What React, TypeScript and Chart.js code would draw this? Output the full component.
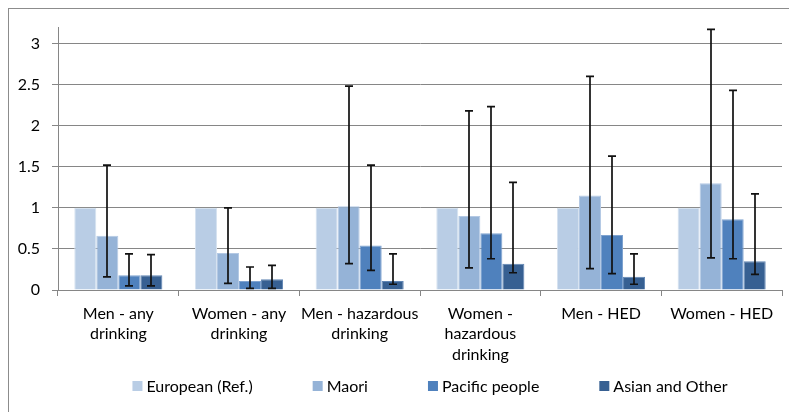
import React, { useEffect, useRef } from "react";
import { Chart, registerables } from "chart.js";

Chart.register(...registerables);

const FONT = "Lato, 'Liberation Sans', sans-serif";

const categories: string[][] = [
  ["Men - any", "drinking"],
  ["Women - any", "drinking"],
  ["Men - hazardous", "drinking"],
  ["Women -", "hazardous", "drinking"],
  ["Men - HED"],
  ["Women - HED"],
];

const seriesNames = ["European (Ref.)", "Maori", "Pacific people", "Asian and Other"];
const seriesColors = ["#B9CDE5", "#95B3D7", "#4F81BD", "#376092"];

const european = [1, 1, 1, 1, 1, 1];
const maori = [0.66, 0.45, 1.02, 0.9, 1.15, 1.3];
const maoriLow = [0.16, 0.08, 0.32, 0.27, 0.26, 0.39];
const maoriHigh = [1.52, 1.0, 2.48, 2.18, 2.6, 3.17];
const pacific = [0.18, 0.11, 0.54, 0.69, 0.67, 0.86];
const pacificLow = [0.05, 0.02, 0.24, 0.38, 0.2, 0.38];
const pacificHigh = [0.44, 0.28, 1.52, 2.23, 1.63, 2.43];
const asian = [0.18, 0.13, 0.11, 0.32, 0.16, 0.35];
const asianLow = [0.05, 0.02, 0.07, 0.21, 0.07, 0.19];
const asianHigh = [0.43, 0.3, 0.44, 1.31, 0.44, 1.17];

const yTicks = [0, 0.5, 1, 1.5, 2, 2.5, 3];

const errorBarPlugin = {
  id: "errorBars",
  afterDatasetsDraw(chart: any) {
    const ctx = chart.ctx;
    const yScale = chart.scales.y;
    ctx.save();
    ctx.strokeStyle = "#111111";
    ctx.lineWidth = 1.7;
    chart.data.datasets.forEach((ds: any, di: number) => {
      const low = ds.errLow;
      const high = ds.errHigh;
      if (!low || !high) return;
      const meta = chart.getDatasetMeta(di);
      meta.data.forEach((bar: any, i: number) => {
        const x = Math.round(bar.x);
        const yl = yScale.getPixelForValue(low[i]);
        const yh = yScale.getPixelForValue(high[i]);
        const cap = 4;
        ctx.beginPath();
        ctx.moveTo(x, yl);
        ctx.lineTo(x, yh);
        ctx.moveTo(x - cap, yl);
        ctx.lineTo(x + cap, yl);
        ctx.moveTo(x - cap, yh);
        ctx.lineTo(x + cap, yh);
        ctx.stroke();
      });
    });
    ctx.restore();
  },
};

const legendAndBorderPlugin = {
  id: "customLegend",
  afterDraw(chart: any) {
    const ctx = chart.ctx;
    ctx.save();
    // outer chart border
    ctx.strokeStyle = "#8C8C8C";
    ctx.lineWidth = 1;
    ctx.strokeRect(8.5, 8.5, chart.width + 20, chart.height + 20);
    // legend
    ctx.font = `16px ${FONT}`;
    ctx.textBaseline = "middle";
    ctx.textAlign = "left";
    const box = 10;
    const gapText = 4;
    const gapItem = 60;
    const widths = seriesNames.map((n) => box + gapText + ctx.measureText(n).width);
    const total = widths.reduce((a, b) => a + b, 0) + gapItem * (seriesNames.length - 1);
    const cx = (chart.chartArea.left + chart.chartArea.right) / 2 + 10;
    let x = cx - total / 2;
    const yc = 386;
    seriesNames.forEach((n, i) => {
      ctx.fillStyle = seriesColors[i];
      ctx.fillRect(x, yc - box / 2, box, box);
      ctx.fillStyle = "#000000";
      ctx.fillText(n, x + box + gapText, yc + 1);
      x += widths[i] + gapItem;
    });
    ctx.restore();
  },
};

export default function App() {
  const ref = useRef<HTMLCanvasElement | null>(null);

  useEffect(() => {
    document.body.style.margin = "0";
    const canvas = ref.current;
    if (!canvas) return;
    const lighten = ["#D6E2F0", "#B4C9E4", "#7FA3D0", "#6186B4"];
    const values = [european, maori, pacific, asian];
    const lows = [null, maoriLow, pacificLow, asianLow];
    const highs = [null, maoriHigh, pacificHigh, asianHigh];
    const chart = new Chart(canvas, {
      type: "bar",
      data: {
        labels: categories,
        datasets: seriesNames.map((name, i) => ({
          label: name,
          data: values[i],
          backgroundColor: seriesColors[i],
          borderColor: lighten[i],
          borderWidth: 1,
          errLow: lows[i],
          errHigh: highs[i],
          categoryPercentage: 0.73,
          barPercentage: 1.0,
        })) as any,
      },
      options: {
        animation: false,
        responsive: false,
        maintainAspectRatio: false,
        layout: { padding: { left: 0, right: 7, top: 27, bottom: 0 } },
        plugins: {
          legend: { display: false },
          tooltip: { enabled: false },
          title: { display: false },
        },
        scales: {
          x: {
            grid: {
              display: true,
              drawOnChartArea: false,
              drawTicks: true,
              tickLength: 6,
              color: "#868686",
              offset: true,
            },
            border: { display: true, color: "#868686", width: 1 },
            ticks: {
              color: "#000000",
              font: { family: FONT, size: 16, lineHeight: 1.3 },
              padding: 7,
              maxRotation: 0,
              autoSkip: false,
            },
            afterFit(scale: any) {
              scale.height = 412 - 290;
            },
          },
          y: {
            min: 0,
            max: 3.2,
            afterBuildTicks(scale: any) {
              scale.ticks = yTicks.map((v) => ({ value: v }));
            },
            grid: {
              color: "#868686",
              tickLength: 6,
              drawTicks: true,
            },
            border: { display: true, color: "#868686", width: 1 },
            ticks: {
              color: "#000000",
              font: { family: FONT, size: 16 },
              padding: 12,
              callback: (v: any) => String(v),
            },
            afterFit(scale: any) {
              scale.width = 58;
            },
          },
        },
      },
      plugins: [errorBarPlugin, legendAndBorderPlugin],
    } as any);
    return () => chart.destroy();
  }, []);

  return (
    <div style={{ width: 789, height: 412, background: "#ffffff" }}>
      <canvas ref={ref} width={789} height={412} style={{ display: "block" }} />
    </div>
  );
}
